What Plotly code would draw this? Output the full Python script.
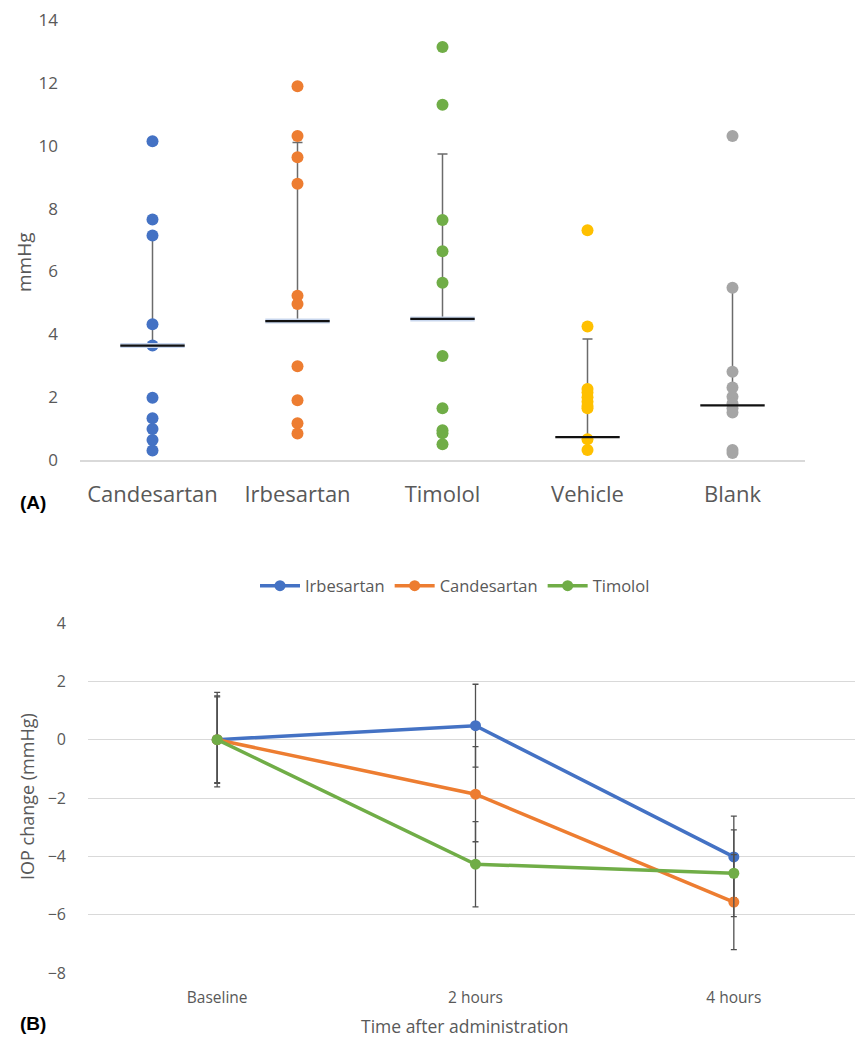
import plotly.graph_objects as go

# page body adds an 8px margin; the figure is sized/positioned to compensate
OFF = 8
W, H = 863 - OFF, 1039 - OFF

# ---------- Panel A data ----------
groups_a = ["Candesartan", "Irbesartan", "Timolol", "Vehicle", "Blank"]
colors_a = ["#4472C4", "#ED7D31", "#70AD47", "#FFC000", "#A5A5A5"]
candesartan_pts = [10.14, 7.65, 7.14, 4.32, 3.64, 1.98, 1.33, 0.99, 0.64, 0.30]
irbesartan_pts = [11.89, 10.31, 9.63, 8.79, 5.23, 4.96, 2.98, 1.90, 1.17, 0.84]
timolol_pts = [13.14, 11.30, 7.64, 6.64, 5.64, 3.31, 1.65, 0.95, 0.85, 0.50]
vehicle_pts = [7.31, 4.25, 2.26, 2.15, 2.00, 1.85, 1.72, 1.65, 0.66, 0.32]
blank_pts = [10.31, 5.48, 2.81, 2.31, 2.01, 1.80, 1.65, 1.51, 0.32, 0.22]
points_a = [candesartan_pts, irbesartan_pts, timolol_pts, vehicle_pts, blank_pts]
means_a = [3.64, 4.42, 4.49, 0.73, 1.74]
sd_a = [3.50, 5.68, 5.25, 3.12, 3.74]
yticks_a = [0, 2, 4, 6, 8, 10, 12, 14]

# ---------- Panel B data ----------
times_b = ["Baseline", "2 hours", "4 hours"]
series_b = ["Irbesartan", "Candesartan", "Timolol"]
colors_b = ["#4472C4", "#ED7D31", "#70AD47"]
irb_b = [0.0, 0.48, -4.02]
can_b = [0.0, -1.87, -5.57]
tim_b = [0.0, -4.27, -4.58]
irb_err = [1.62, 1.42, 1.40]
can_err = [1.47, 1.63, 1.63]
tim_err = [1.50, 1.46, 1.49]
values_b = [irb_b, can_b, tim_b]
errors_b = [irb_err, can_err, tim_err]
yticks_b = [4, 2, 0, -2, -4, -6, -8]

FONT = "Open Sans, Segoe UI, Arial, sans-serif"
TXT = "#595959"

fig = go.Figure()

# Panel A: error bars (upward only) drawn first
fig.add_trace(go.Scatter(
    x=groups_a, y=means_a, mode="markers",
    marker=dict(size=1, color="rgba(0,0,0,0)"),
    error_y=dict(type="data", symmetric=False, array=sd_a,
                 arrayminus=[0] * len(sd_a), color="#6b6b6b",
                 thickness=1.5, width=5),
    showlegend=False, hoverinfo="skip", xaxis="x", yaxis="y"))

# Panel A: points
for g, pts, c in zip(groups_a, points_a, colors_a):
    fig.add_trace(go.Scatter(
        x=[g] * len(pts), y=pts, mode="markers",
        marker=dict(size=12, color=c, line=dict(width=0)),
        showlegend=False, xaxis="x", yaxis="y"))

# Panel A: mean lines (light blue shade + black line)
fig.add_trace(go.Scatter(
    x=groups_a[:3], y=means_a[:3], mode="markers",
    marker=dict(symbol="line-ew", size=46,
                line=dict(width=5, color="#c9d7ee")),
    showlegend=False, hoverinfo="skip", xaxis="x", yaxis="y"))
fig.add_trace(go.Scatter(
    x=groups_a, y=means_a, mode="markers",
    marker=dict(symbol="line-ew", size=46,
                line=dict(width=2.2, color="#111111")),
    showlegend=False, xaxis="x", yaxis="y"))

# Panel B lines
for name, vals, errs, c in zip(series_b, values_b, errors_b, colors_b):
    fig.add_trace(go.Scatter(
        x=times_b, y=vals, mode="lines+markers", name=name,
        line=dict(color=c, width=3.5),
        marker=dict(size=11, color=c),
        error_y=dict(type="data", array=errs, symmetric=True,
                     color="#505050", thickness=1.3, width=3),
        xaxis="x2", yaxis="y2"))

def px_x(p):
    return (p - OFF) / W

def px_y(p):
    return 1 - (p - OFF) / H

def label(text, x, y, size, color=TXT, angle=0, family=None):
    f = dict(size=size, color=color)
    if family:
        f["family"] = family
    return dict(text=text, x=px_x(x), y=px_y(y), xref="paper", yref="paper",
                xanchor="center", yanchor="middle", textangle=angle,
                showarrow=False, font=f)

fig.update_layout(
    width=W, height=H,
    margin=dict(l=0, r=0, t=0, b=0, autoexpand=False),
    paper_bgcolor="white", plot_bgcolor="white",
    font=dict(family=FONT, color=TXT),
    xaxis=dict(domain=[px_x(80), px_x(805)], anchor="y", automargin=False,
               type="category", categoryorder="array", categoryarray=groups_a,
               range=[-0.5, 4.5], showgrid=False, zeroline=False,
               showline=True, linecolor="#d9d9d9", linewidth=1.5,
               ticks="", tickfont=dict(size=22, color=TXT),
               ticklabelstandoff=14, ticklabeloverflow="allow"),
    yaxis=dict(domain=[px_y(460), px_y(20)], anchor="x", automargin=False,
               range=[0, 14], tickvals=yticks_a, showgrid=False,
               zeroline=False, showline=False, ticks="",
               tickfont=dict(size=17, color=TXT), ticklabelstandoff=21,
               ticklabeloverflow="allow"),
    xaxis2=dict(domain=[px_x(88), px_x(863)], anchor="y2", automargin=False,
                type="category", categoryorder="array", categoryarray=times_b,
                range=[-0.5, 2.5], showgrid=False, zeroline=False,
                showline=False, ticks="", tickfont=dict(size=15.5, color=TXT),
                ticklabelstandoff=13, ticklabeloverflow="allow"),
    yaxis2=dict(domain=[px_y(973), px_y(623)], anchor="x2", automargin=False,
                range=[-8, 4], tickvals=yticks_b, showgrid=True,
                gridcolor="#d9d9d9", gridwidth=1, zeroline=False,
                showline=False, ticks="", tickfont=dict(size=16, color=TXT),
                ticklabelstandoff=21, ticklabeloverflow="allow"),
    legend=dict(orientation="h", x=px_x(455), xanchor="center",
                y=px_y(586), yanchor="middle",
                font=dict(size=16.5, color=TXT), bgcolor="rgba(0,0,0,0)",
                itemwidth=40, tracegroupgap=0),
    annotations=[
        label("mmHg", 24, 262, 19, angle=-90),
        label("<b>(A)</b>", 33, 502, 19, color="#000000", family="Arial"),
        label("IOP change (mmHg)", 27, 797, 18, angle=-90),
        label("Time after administration", 465, 1026, 17.5),
        label("<b>(B)</b>", 33, 1023, 19, color="#000000", family="Arial"),
    ],
)

fig.write_html("out.html")
